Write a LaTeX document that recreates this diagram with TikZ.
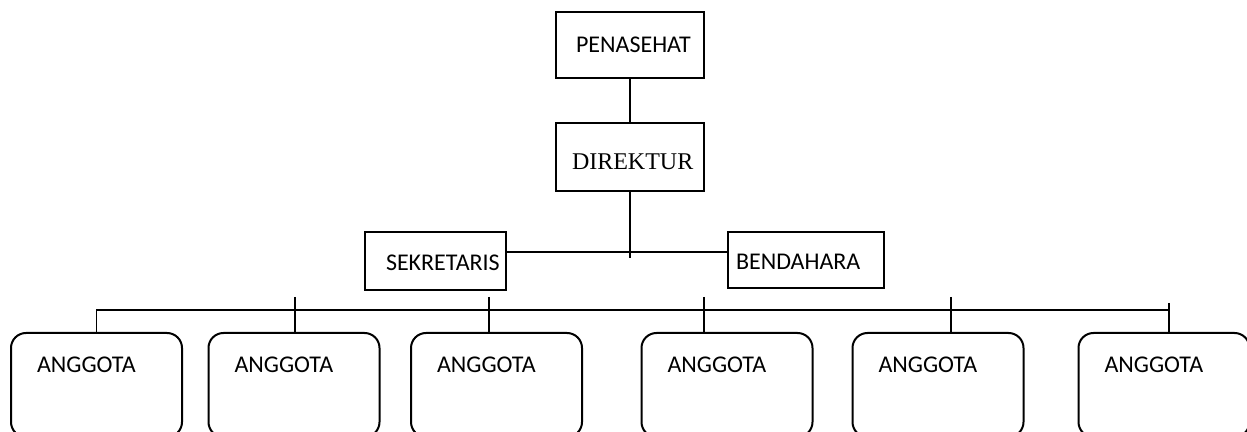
\documentclass[tikz,border=0pt]{standalone}
\usepackage{fontspec}
\setmainfont{Carlito}
\newfontfamily\timesfont{Liberation Serif}
\usepackage{tikz}
\usetikzlibrary{calc}
\tikzstyle{jabatan} = [draw, line width=1.2pt, align=left, inner ysep=0pt]
\tikzstyle{anggota} = [draw, line width=1pt, rounded corners=7.5pt, align=left, inner xsep=13pt, inner ysep=0pt, text width=59.5pt, text height=19.5pt, text depth=32.5pt]
\tikzstyle{garis} = [line width=0.9pt]

\begin{document}
\begin{tikzpicture}[x=0.5pt, y=-0.5pt, font=\fontsize{12}{14}\selectfont]
			\useasboundingbox (0,0) rectangle (1247,432);
			% pengurus inti
			\node [jabatan, inner xsep=10pt, text width=54pt, text height=20.35pt, text depth=12.65pt] (pen) at (630,45) {PENASEHAT};
			\node [jabatan, inner xsep=8pt, text width=58pt, text height=23.5pt, text depth=10.5pt, font=\fontsize{12}{14}\timesfont] (dir) at (630,157) {DIREKTUR};
			\node [jabatan, inner xsep=10.5pt, text width=49.5pt, text height=19.5pt, text depth=9.5pt] (sek) at (435.5,261) {SEKRETARIS};
			\node [jabatan, inner xsep=4pt, text width=70pt, text height=19pt, text depth=9pt] (ben) at (806,260) {BENDAHARA};
			% anggota
			\foreach \n/\x in {1/96.5,2/294,3/496.5,4/727,5/938,6/1164}
				\node [anggota] (a\n) at (\x,385) {ANGGOTA};
			% garis
			\coordinate (hub) at (630,258);
			\coordinate (mid) at (630,252);
			\coordinate (bus) at (0,310);
			\coordinate (tk6) at (1169,303);
			\draw [garis] (pen.south) -- (dir.north);
			\draw [garis] (dir.south) -- (hub);
			\draw [garis] (sek.east |- mid) -- (ben.west |- mid);
			\draw [garis] (a1.north) -- (a1.north |- bus) -- (tk6 |- bus);
			\draw [garis] (tk6) -- (tk6 |- a6.north);
			\foreach \n/\x in {2/295,3/489,4/704,5/951} {
				\coordinate (tk\n) at (\x,297);
				\draw [garis] (tk\n) -- (tk\n |- a\n.north);
			}
			
		\end{tikzpicture}
\end{document}
